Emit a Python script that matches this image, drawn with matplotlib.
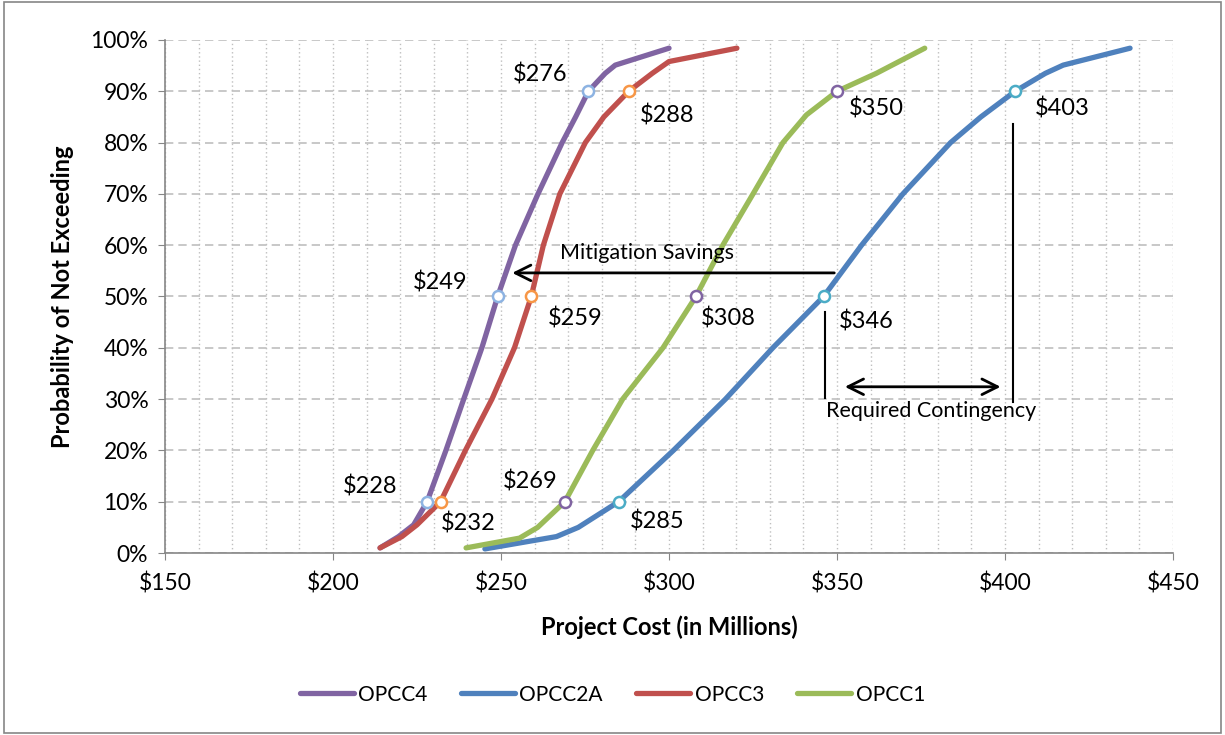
import matplotlib.pyplot as plt
from matplotlib.patches import Rectangle
from matplotlib.ticker import FuncFormatter, MultipleLocator

plt.rcParams["font.family"] = ["Lato", "DejaVu Sans"]

# cumulative cost curves (cost in $M, probability in %)
opcc4_cost = [214, 219.5, 224, 228, 233.6, 238.9, 244.3, 249, 254.3, 261, 268.2, 272.2, 276, 281, 284, 300]
opcc4_prob = [1, 3.2, 5.5, 10, 20, 30, 40, 50, 60, 70, 80, 85, 90, 93.5, 95.1, 98.4]

opcc2a_cost = [245.2, 266.5, 273, 285, 301.3, 316.8, 330.9, 346, 357.3, 369.6, 383.8, 392.8, 403, 412, 417.3, 437.2]
opcc2a_prob = [0.8, 3.2, 5, 10, 20, 30, 40, 50, 60, 70, 80, 85, 90, 93.5, 95.1, 98.4]

opcc3_cost = [214, 220.5, 225, 232, 239.4, 247.3, 254, 259, 262.6, 267.5, 275.1, 280.6, 288, 295, 300, 320.2]
opcc3_prob = [1, 3.2, 5.5, 10, 20, 30, 40, 50, 60, 70, 80, 85, 90, 93.5, 95.8, 98.4]

opcc1_cost = [239.6, 255.5, 260.9, 269, 277.3, 286.2, 298.2, 308, 316, 325, 333.9, 340.9, 350, 361.7, 376.1]
opcc1_prob = [1, 2.9, 5, 10, 20, 30, 40, 50, 60, 70, 80, 85.4, 90, 93.5, 98.4]

series = [
    ("OPCC4", opcc4_cost, opcc4_prob, "#8064A2"),
    ("OPCC2A", opcc2a_cost, opcc2a_prob, "#4F81BD"),
    ("OPCC3", opcc3_cost, opcc3_prob, "#C0504D"),
    ("OPCC1", opcc1_cost, opcc1_prob, "#9BBB59"),
]

# highlighted points: (cost, prob, marker edge, label, label x, label y)
marks = [
    (228, 10, "#8DB3E2", "$228", 211, 13),
    (249, 50, "#8DB3E2", "$249", 231.8, 52.8),
    (276, 90, "#8DB3E2", "$276", 261.6, 93.2),
    (232, 10, "#F79646", "$232", 240.2, 5.8),
    (259, 50, "#F79646", "$259", 272, 45.8),
    (288, 90, "#F79646", "$288", 299.4, 85.2),
    (269, 10, "#8064A2", "$269", 258.6, 14),
    (308, 50, "#8064A2", "$308", 317.6, 45.8),
    (350, 90, "#8064A2", "$350", 361.6, 86.7),
    (285, 10, "#4BACC6", "$285", 296.4, 6.2),
    (346, 50, "#4BACC6", "$346", 358.6, 45.2),
    (403, 90, "#4BACC6", "$403", 417, 86.7),
]

fig = plt.figure(figsize=(12.25, 7.35), dpi=100)
ax = fig.add_axes([0.1347, 0.2476, 0.8229, 0.698])

ax.xaxis.set_minor_locator(MultipleLocator(10))
ax.grid(True, axis="x", which="both", color="#BFBFBF", linestyle=(0, (1, 2)), linewidth=1)
ax.grid(True, axis="y", which="major", color="#BFBFBF", linestyle=(0, (5, 3)), linewidth=1.2)
ax.set_axisbelow(True)

for name, cost, prob, color in series:
    ax.plot(cost, prob, color=color, lw=3.8, solid_capstyle="round",
            solid_joinstyle="round", label=name)

for cost, prob, edge, text, tx, ty in marks:
    ax.plot(cost, prob, "o", ms=8, mfc="white", mec=edge, mew=1.8, zorder=5)
    ax.text(tx, ty, text, fontsize=17, ha="center", va="center")

# mitigation savings arrow
ax.annotate("", xy=(252.5, 54.6), xytext=(350, 54.6),
            arrowprops=dict(arrowstyle="->", lw=2, color="black", mutation_scale=28))
ax.text(293.5, 58.5, "Mitigation Savings", fontsize=15.5, ha="center", va="center")

# required contingency
ax.plot([346.5, 346.5], [30.3, 47], color="black", lw=1.5)
ax.plot([402.4, 402.4], [29.4, 83.6], color="black", lw=1.5)
ax.annotate("", xy=(351.5, 32.4), xytext=(399.5, 32.4),
            arrowprops=dict(arrowstyle="<->", lw=2, color="black", mutation_scale=28))
ax.text(378, 27.6, "Required Contingency", fontsize=15.5, ha="center", va="center")

ax.set_xlim(150, 450)
ax.set_ylim(0, 100)
ax.xaxis.set_major_locator(MultipleLocator(50))
ax.yaxis.set_major_locator(MultipleLocator(10))
ax.xaxis.set_major_formatter(FuncFormatter(lambda v, p: f"${v:.0f}"))
ax.yaxis.set_major_formatter(FuncFormatter(lambda v, p: f"{v:.0f}%"))
ax.tick_params(axis="both", which="major", labelsize=16.5, direction="out", length=5, color="#868686")
ax.tick_params(axis="x", which="minor", length=0)
ax.tick_params(axis="x", pad=9)
ax.tick_params(axis="y", pad=7)
for side in ["top", "right"]:
    ax.spines[side].set_visible(False)
for side in ["left", "bottom"]:
    ax.spines[side].set_color("#868686")
    ax.spines[side].set_linewidth(1.2)

ax.set_xlabel("Project Cost (in Millions)", fontsize=17, fontweight="bold", labelpad=15)
ax.set_ylabel("Probability of Not Exceeding", fontsize=17, fontweight="bold", labelpad=12)

ax.legend(loc="center", bbox_to_anchor=(0.5, 0.055), bbox_transform=fig.transFigure,
          ncol=4, frameon=False, fontsize=15, handlelength=2.6, handletextpad=0.2, columnspacing=1.6)

fig.patches.append(Rectangle((0.003, 0.003), 0.994, 0.994, transform=fig.transFigure,
                             fill=False, edgecolor="#868686", lw=1.2))

fig.savefig("out.png", dpi=100)
